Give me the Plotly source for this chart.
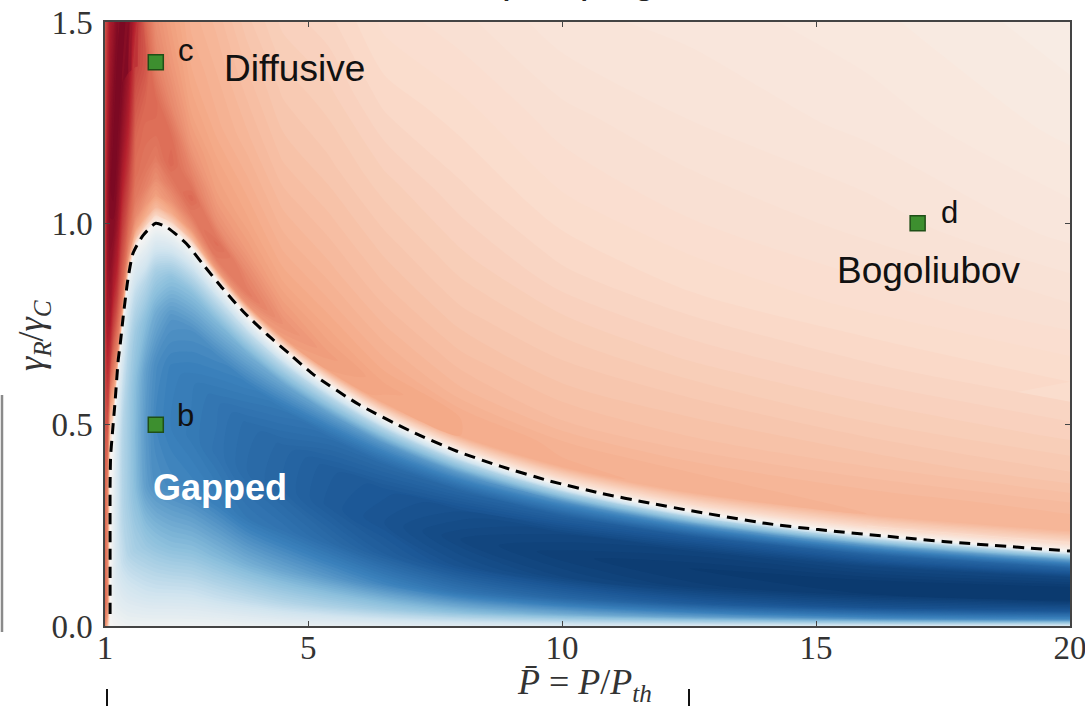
import numpy as np
import plotly.graph_objects as go

# ---- data -------------------------------------------------------------
# pump strength nodes (P/P_th)
P_NODES = [1.0, 1.05, 1.1, 1.16, 1.24, 1.34, 1.46, 1.6, 1.8, 2.0, 2.3, 2.7,
           3.2, 3.8, 4.5, 5.4, 6.5, 8.0, 10.0, 12.5, 16.0, 20.0]
# height (gamma_R/gamma_C) where each column leaves the gapped region;
# the first two columns lie wholly in the diffusive strip
SPLIT_R = [0.3, 0.35, 0.42, 0.5, 0.62, 0.75, 0.87, 0.94, 0.975, 1.0, 0.985, 0.94,
           0.86, 0.77, 0.685, 0.6, 0.515, 0.43, 0.35, 0.285, 0.228, 0.186]
# sample heights: fractions of the split height, then of the span above it
LOWER_FRAC = [0, 0.08, 0.2, 0.35, 0.5, 0.65, 0.78, 0.88, 0.95, 1.0]
UPPER_FRAC = [0.015, 0.04, 0.08, 0.14, 0.22, 0.32, 0.45, 0.6, 0.8, 1.0]

# signed gap measure per column: 10 lower samples then 10 upper samples
GAP_COLUMNS = [
    [0.5, 0.55, 0.6, 0.6, 0.6, 0.6, 0.6, 0.6, 0.6, 0.6, 0.6, 0.61, 0.62, 0.64, 0.66, 0.68, 0.7, 0.7, 0.68, 0.66],
    [0.3, 0.45, 0.5, 0.5, 0.5, 0.5, 0.5, 0.5, 0.5, 0.52, 0.53, 0.56, 0.6, 0.67, 0.74, 0.82, 0.86, 0.86, 0.8, 0.74],
    [-0.02, 0, 0, 0, 0, 0, 0, 0, 0.02, 0.05, 0.1, 0.2, 0.32, 0.52, 0.72, 0.84, 0.9, 0.93, 0.88, 0.82],
    [-0.02, -0.05, -0.08, -0.08, -0.08, -0.07, -0.05, -0.03, -0.01, 0, 0.15, 0.3, 0.42, 0.55, 0.68, 0.8, 0.9, 0.95, 0.92, 0.86],
    [-0.03, -0.09, -0.15, -0.18, -0.18, -0.17, -0.14, -0.1, -0.05, 0, 0.25, 0.42, 0.52, 0.6, 0.7, 0.8, 0.88, 0.93, 0.95, 0.92],
    [-0.04, -0.12, -0.22, -0.27, -0.28, -0.27, -0.22, -0.15, -0.07, 0, 0.22, 0.4, 0.52, 0.6, 0.66, 0.72, 0.8, 0.87, 0.93, 0.95],
    [-0.05, -0.15, -0.28, -0.33, -0.34, -0.33, -0.28, -0.2, -0.1, 0, 0.2, 0.35, 0.48, 0.56, 0.62, 0.68, 0.74, 0.8, 0.86, 0.92],
    [-0.05, -0.17, -0.32, -0.4, -0.42, -0.4, -0.34, -0.24, -0.12, 0, 0.15, 0.3, 0.42, 0.5, 0.55, 0.58, 0.6, 0.64, 0.7, 0.78],
    [-0.05, -0.19, -0.35, -0.5, -0.52, -0.5, -0.4, -0.27, -0.12, 0, 0.12, 0.25, 0.37, 0.45, 0.52, 0.56, 0.58, 0.6, 0.65, 0.6],
    [-0.05, -0.2, -0.38, -0.55, -0.58, -0.56, -0.46, -0.32, -0.15, 0, 0.1, 0.22, 0.33, 0.42, 0.48, 0.54, 0.58, 0.6, 0.52, 0.48],
    [-0.05, -0.2, -0.4, -0.57, -0.61, -0.6, -0.53, -0.38, -0.18, 0, 0.12, 0.26, 0.38, 0.47, 0.54, 0.6, 0.58, 0.5, 0.45, 0.42],
    [-0.05, -0.2, -0.4, -0.58, -0.63, -0.62, -0.55, -0.4, -0.2, 0, 0.15, 0.32, 0.45, 0.54, 0.6, 0.52, 0.45, 0.41, 0.38, 0.36],
    [-0.05, -0.22, -0.42, -0.6, -0.66, -0.65, -0.57, -0.42, -0.22, 0, 0.22, 0.44, 0.54, 0.58, 0.48, 0.43, 0.4, 0.37, 0.35, 0.33],
    [-0.06, -0.24, -0.45, -0.64, -0.7, -0.69, -0.6, -0.45, -0.24, 0, 0.22, 0.46, 0.54, 0.5, 0.44, 0.4, 0.37, 0.34, 0.31, 0.28],
    [-0.07, -0.27, -0.48, -0.66, -0.73, -0.72, -0.64, -0.48, -0.26, 0, 0.2, 0.43, 0.47, 0.43, 0.39, 0.36, 0.33, 0.3, 0.27, 0.24],
    [-0.08, -0.3, -0.52, -0.7, -0.78, -0.77, -0.68, -0.5, -0.27, 0, 0.2, 0.41, 0.43, 0.4, 0.37, 0.34, 0.31, 0.28, 0.25, 0.22],
    [-0.1, -0.34, -0.58, -0.76, -0.82, -0.8, -0.7, -0.52, -0.28, 0, 0.2, 0.39, 0.4, 0.37, 0.34, 0.31, 0.28, 0.25, 0.21, 0.18],
    [-0.12, -0.4, -0.66, -0.83, -0.88, -0.84, -0.72, -0.52, -0.28, 0, 0.2, 0.38, 0.38, 0.34, 0.31, 0.28, 0.25, 0.22, 0.19, 0.16],
    [-0.14, -0.45, -0.72, -0.88, -0.92, -0.88, -0.75, -0.55, -0.3, 0, 0.2, 0.37, 0.36, 0.32, 0.29, 0.26, 0.22, 0.19, 0.16, 0.13],
    [-0.15, -0.5, -0.78, -0.92, -0.94, -0.9, -0.78, -0.55, -0.3, 0, 0.2, 0.36, 0.35, 0.31, 0.28, 0.24, 0.2, 0.17, 0.14, 0.12],
    [-0.16, -0.55, -0.82, -0.94, -0.94, -0.88, -0.74, -0.52, -0.28, 0, 0.2, 0.35, 0.34, 0.3, 0.26, 0.22, 0.18, 0.15, 0.12, 0.1],
    [-0.16, -0.55, -0.8, -0.95, -0.95, -0.88, -0.72, -0.5, -0.28, 0, 0.2, 0.35, 0.33, 0.28, 0.24, 0.2, 0.16, 0.12, 0.09, 0.07],
]

# phase boundary between gapped and diffusive regimes
BOUNDARY_P = [1.10, 1.10, 1.10, 1.11, 1.14, 1.20, 1.26, 1.30, 1.36, 1.45, 1.55,
              1.75, 2.0, 2.22, 2.6, 2.93, 3.32, 3.72, 4.19, 4.64, 5.1, 6.0,
              7.0, 7.93, 8.78, 9.76, 10.75, 11.73, 12.46, 14.0, 15.0, 17.5, 20.0]
BOUNDARY_R = [0.03, 0.2, 0.35, 0.42, 0.47, 0.56, 0.66, 0.70, 0.77, 0.86, 0.925,
              0.97, 1.0, 0.99, 0.95, 0.898, 0.838, 0.781, 0.724, 0.675, 0.625, 0.55,
              0.485, 0.434, 0.397, 0.36, 0.33, 0.305, 0.288, 0.255, 0.24, 0.21, 0.186]

# highlighted parameter points
POINT_NAMES = ["c", "b", "d"]
POINT_P = [2.0, 2.0, 17.0]
POINT_R = [1.4, 0.5, 1.0]

X_TICKS = [1, 5, 10, 15, 20]
X_TICK_TEXT = ["1", "5", "10", "15", "20"]
Y_TICKS = [0.0, 0.5, 1.0, 1.5]
Y_TICK_TEXT = ["0.0", "0.5", "1.0", "1.5"]

# ---- figure -------------------------------------------------------------
W, H = 1085, 706
ML, MR, MT, MB = 105, 15, 22, 80
PW, PH = W - ML - MR, H - MT - MB
R_TOP = 1.5


def px_x(px):
    return (px - ML) / PW


def px_y(py):
    return (H - MB - py) / PH


# curvilinear sampling grid that follows the gapped/diffusive split
split = np.array(SPLIT_R)
lower = np.outer(LOWER_FRAC, split)
upper = split[None, :] + np.outer(UPPER_FRAC, R_TOP - split)
grid_r = np.vstack([lower, upper])
grid_p = np.tile(np.array(P_NODES), (grid_r.shape[0], 1))
a_idx = list(range(len(P_NODES)))
b_idx = list(range(grid_r.shape[0]))
gap = np.array(GAP_COLUMNS).T

rdbu_r = [
    [0.0, "#053061"], [0.1, "#1c5796"], [0.2, "#3a80bb"], [0.3, "#8bbfdc"],
    [0.4, "#d0e4ef"], [0.5, "#f7f5f3"], [0.6, "#fadccc"], [0.7, "#f4a885"],
    [0.8, "#dc6b55"], [0.9, "#b5212e"], [1.0, "#67001f"],
]

hidden_axis = dict(showgrid=False, showline=False, showticklabels="none",
                   startline=False, endline=False, minorgridcount=0,
                   smoothing=0, gridcolor="rgba(0,0,0,0)")

fig = go.Figure()
fig.add_trace(go.Carpet(
    carpet="grid", a=a_idx, b=b_idx, x=grid_p.tolist(), y=grid_r.tolist(),
    aaxis=hidden_axis, baxis=hidden_axis, color="rgba(0,0,0,0)",
))
fig.add_trace(go.Contourcarpet(
    carpet="grid", a=a_idx, b=b_idx, z=gap.tolist(),
    zmin=-1, zmax=1, colorscale=rdbu_r, showscale=False,
    autocontour=False,
    contours=dict(start=-1, end=1, size=0.015, coloring="fill", showlines=False),
    line=dict(width=0, smoothing=0.8),
))
fig.add_trace(go.Scatter(
    x=BOUNDARY_P, y=BOUNDARY_R, mode="lines",
    line=dict(color="black", width=3, dash="11px,7px", shape="spline", smoothing=0.6),
    hoverinfo="skip",
))
fig.add_trace(go.Scatter(
    x=POINT_P, y=POINT_R, mode="markers",
    marker=dict(symbol="square", size=15, color="#3d8f2f",
                line=dict(color="#1f4f17", width=1.5)),
    hoverinfo="skip",
))

sans = "Liberation Sans, Arial, sans-serif"
serif = "Liberation Serif, Times New Roman, serif"

annotations = []
label_offsets = {"c": (0.6, 0.03), "b": (0.58, 0.022), "d": (0.62, 0.028)}
for name, p, r in zip(POINT_NAMES, POINT_P, POINT_R):
    dx, dy = label_offsets[name]
    annotations.append(dict(x=p + dx, y=r + dy, text=name, showarrow=False,
                            font=dict(family=sans, size=31, color="#111"),
                            xanchor="center", yanchor="middle"))

annotations += [
    dict(x=4.74, y=1.385, text="Diffusive", showarrow=False,
         font=dict(family=sans, size=37, color="#111"), xanchor="center", yanchor="middle"),
    dict(x=17.22, y=0.883, text="Bogoliubov", showarrow=False,
         font=dict(family=sans, size=37, color="#111"), xanchor="center", yanchor="middle"),
    dict(x=3.26, y=0.345, text="<b>Gapped</b>", showarrow=False,
         font=dict(family=sans, size=36, color="white"), xanchor="center", yanchor="middle"),
    # slide heading, cut by the top edge of the page
    dict(xref="paper", yref="paper", x=px_x(578), y=px_y(3), text="pumping",
         showarrow=False, font=dict(family=sans, size=40, color="#222"),
         xanchor="center", yanchor="bottom"),
    # axis titles
    dict(xref="paper", yref="paper", x=px_x(584), y=px_y(685),
         text="<i>P̄</i> = <i>P</i>/<i>P</i><sub><i>th</i></sub>", showarrow=False,
         font=dict(family=serif, size=36, color="#333"), xanchor="center", yanchor="middle"),
    dict(xref="paper", yref="paper", x=px_x(34), y=px_y(335),
         text="<i>γ</i><sub><i>R</i></sub>/<i>γ</i><sub><i>C</i></sub>", showarrow=False,
         textangle=-90, font=dict(family=serif, size=36, color="#333"),
         xanchor="center", yanchor="middle"),
]

shapes = [
    # neighbouring panel edge and bottom marks on the slide
    dict(type="line", xref="paper", yref="paper", x0=px_x(2), x1=px_x(2),
         y0=px_y(395), y1=px_y(632), line=dict(color="#8a8a8a", width=2.5)),
    dict(type="line", xref="paper", yref="paper", x0=px_x(107), x1=px_x(107),
         y0=px_y(689), y1=px_y(706), line=dict(color="#111", width=2)),
    dict(type="line", xref="paper", yref="paper", x0=px_x(689), x1=px_x(689),
         y0=px_y(689), y1=px_y(706), line=dict(color="#111", width=2)),
]

axis_common = dict(
    showline=True, linecolor="#444", linewidth=1.5, mirror="ticks",
    ticks="inside", ticklen=5, tickwidth=1.2, tickcolor="#444",
    showgrid=False, zeroline=False, automargin=False,
    ticklabeloverflow="allow",
    tickfont=dict(family=serif, size=33, color="#333"),
)

fig.update_layout(
    width=W, height=H,
    margin=dict(l=ML, r=MR, t=MT, b=MB),
    paper_bgcolor="white", plot_bgcolor="white",
    showlegend=False,
    xaxis=dict(range=[1, 20], tickvals=X_TICKS, ticktext=X_TICK_TEXT,
               ticklabelstandoff=-8, **axis_common),
    yaxis=dict(range=[0, R_TOP], tickvals=Y_TICKS, ticktext=Y_TICK_TEXT,
               ticklabelstandoff=4, **axis_common),
    annotations=annotations,
    shapes=shapes,
)

fig.write_html("out.html")
